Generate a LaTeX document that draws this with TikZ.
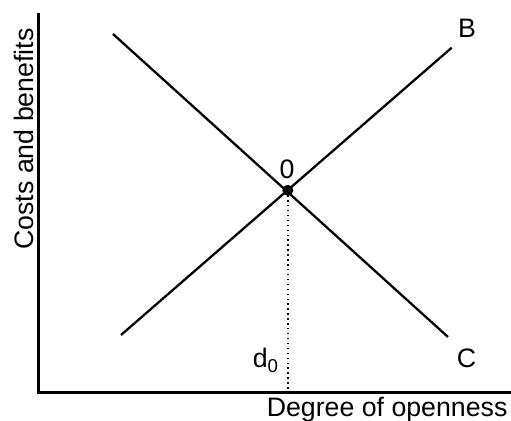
\documentclass[tikz,border=0pt]{standalone}
\usepackage{fontspec}
\setmainfont{Liberation Sans}
\usetikzlibrary{positioning}

\begin{document}
\begin{tikzpicture}[x=0.2mm, y=-0.2mm,
      lbl/.style = {inner sep=0, font=\fontsize{15.2}{18}\selectfont},
      curve/.style = {line width=1.3pt},
      axis/.style = {line width=1.8pt}]
      \useasboundingbox (0,0) rectangle (511,421);

      % axes
      \coordinate (o) at (38.5,392.5);
      \coordinate (ytop) at (38.5,13);
      \coordinate (xend) at (511,392.5);
      \draw[axis] (ytop) -- (o) -- (xend);

      % the two lines and where they meet
      \node[circle, fill, inner sep=0, minimum size=11*0.2mm] (eq) at (287.8,190.3) {};
      \coordinate (b1) at (121,335);
      \coordinate (b2) at (451.7,47.7);
      \coordinate (c1) at (113,34);
      \coordinate (c2) at (448,337);
      \draw[curve] (b1) -- (b2);
      \draw[curve] (c1) -- (c2);
      \draw[dotted, line width=0.8pt] (eq.center) -- (eq.center |- o);

      % labels
      \node[lbl, anchor=base] (B) at (467,38) {B};
      \node[lbl, anchor=base] (C) at (466.5,368) {C};
      \node[lbl, anchor=base] (zero) at (287,179) {0};
      \node[lbl, anchor=base west] (d) at (252.5,368) {d\textsubscript{0}};
      \node[lbl, anchor=base west] (xlab) at (266.5,417) {Degree of openness};
      \node[lbl, rotate=90, anchor=base] (ylab) at (33.5,139) {Costs and benefits};
    \end{tikzpicture}
\end{document}
